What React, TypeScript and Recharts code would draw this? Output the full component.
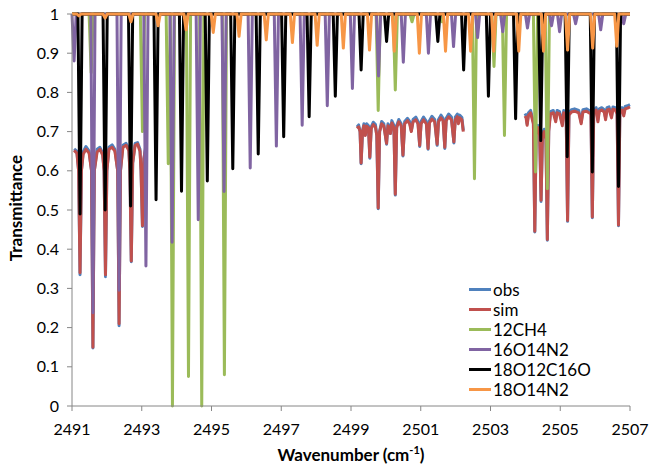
import React from 'react';
import { LineChart, Line, XAxis, YAxis, Legend } from 'recharts';

const xTicks = [2491, 2493, 2495, 2497, 2499, 2501, 2503, 2505, 2507];
const yTicks = [0, 0.1, 0.2, 0.3, 0.4, 0.5, 0.6, 0.7, 0.8, 0.9, 1];

// measured spectrum windows: [wavenumber, transmittance]
const obsWindow1 = [
  [2491.06, 0.656], [2491.14, 0.65], [2491.19, 0.6], [2491.23, 0.335], [2491.27, 0.6], [2491.32, 0.648],
  [2491.4, 0.662], [2491.49, 0.65], [2491.56, 0.6], [2491.6, 0.148], [2491.64, 0.6], [2491.72, 0.655],
  [2491.8, 0.66], [2491.88, 0.645], [2491.92, 0.6], [2491.96, 0.33], [2492.0, 0.6], [2492.06, 0.66],
  [2492.15, 0.666], [2492.23, 0.655], [2492.31, 0.6], [2492.35, 0.205], [2492.39, 0.6], [2492.46, 0.665],
  [2492.55, 0.67], [2492.63, 0.657], [2492.66, 0.6], [2492.7, 0.368], [2492.74, 0.62], [2492.81, 0.67],
  [2492.88, 0.672], [2492.95, 0.655], [2492.98, 0.6], [2493.02, 0.458], [2493.06, 0.63], [2493.11, 0.66],
];
const simWindow1 = [
  [2491.06, 0.652], [2491.14, 0.645], [2491.19, 0.6], [2491.23, 0.34], [2491.27, 0.6], [2491.32, 0.642],
  [2491.4, 0.655], [2491.49, 0.645], [2491.56, 0.6], [2491.6, 0.15], [2491.64, 0.6], [2491.72, 0.648],
  [2491.8, 0.655], [2491.88, 0.64], [2491.92, 0.6], [2491.96, 0.335], [2492.0, 0.6], [2492.06, 0.655],
  [2492.15, 0.66], [2492.23, 0.65], [2492.31, 0.6], [2492.35, 0.21], [2492.39, 0.6], [2492.46, 0.66],
  [2492.55, 0.665], [2492.63, 0.652], [2492.66, 0.6], [2492.7, 0.37], [2492.74, 0.62], [2492.81, 0.665],
  [2492.88, 0.668], [2492.95, 0.65], [2492.98, 0.6], [2493.02, 0.46], [2493.06, 0.63], [2493.11, 0.655],
];
const obsWindow2 = [
  [2499.17, 0.712], [2499.22, 0.717], [2499.26, 0.7], [2499.29, 0.618], [2499.33, 0.7], [2499.37, 0.72],
  [2499.41, 0.692], [2499.45, 0.72], [2499.5, 0.715], [2499.54, 0.632], [2499.58, 0.712], [2499.64, 0.724],
  [2499.7, 0.718], [2499.74, 0.69], [2499.78, 0.503], [2499.82, 0.7], [2499.88, 0.726], [2499.94, 0.72],
  [2500.02, 0.668], [2500.06, 0.72], [2500.1, 0.715], [2500.13, 0.695], [2500.17, 0.728], [2500.23, 0.716],
  [2500.27, 0.538], [2500.31, 0.715], [2500.37, 0.731], [2500.44, 0.72], [2500.49, 0.638], [2500.54, 0.726],
  [2500.62, 0.734], [2500.68, 0.726], [2500.73, 0.702], [2500.78, 0.731], [2500.86, 0.737], [2500.92, 0.726],
  [2500.97, 0.662], [2501.01, 0.726], [2501.08, 0.737], [2501.16, 0.726], [2501.21, 0.655], [2501.25, 0.728],
  [2501.32, 0.739], [2501.4, 0.731], [2501.47, 0.665], [2501.51, 0.731], [2501.58, 0.742], [2501.64, 0.734],
  [2501.69, 0.657], [2501.73, 0.734], [2501.8, 0.745], [2501.88, 0.737], [2501.95, 0.671], [2501.99, 0.737],
  [2502.05, 0.745], [2502.08, 0.725], [2502.12, 0.742], [2502.18, 0.736], [2502.22, 0.703],
];
const simWindow2 = [
  [2499.17, 0.708], [2499.22, 0.712], [2499.26, 0.7], [2499.29, 0.62], [2499.33, 0.7], [2499.37, 0.715],
  [2499.41, 0.69], [2499.45, 0.714], [2499.5, 0.71], [2499.54, 0.635], [2499.58, 0.708], [2499.64, 0.718],
  [2499.7, 0.712], [2499.74, 0.69], [2499.78, 0.505], [2499.82, 0.7], [2499.88, 0.72], [2499.94, 0.715],
  [2500.02, 0.67], [2500.06, 0.715], [2500.1, 0.71], [2500.13, 0.695], [2500.17, 0.722], [2500.23, 0.71],
  [2500.27, 0.54], [2500.31, 0.71], [2500.37, 0.725], [2500.44, 0.715], [2500.49, 0.64], [2500.54, 0.72],
  [2500.62, 0.728], [2500.68, 0.72], [2500.73, 0.7], [2500.78, 0.725], [2500.86, 0.73], [2500.92, 0.72],
  [2500.97, 0.665], [2501.01, 0.72], [2501.08, 0.73], [2501.16, 0.72], [2501.21, 0.657], [2501.25, 0.722],
  [2501.32, 0.732], [2501.4, 0.725], [2501.47, 0.668], [2501.51, 0.725], [2501.58, 0.735], [2501.64, 0.728],
  [2501.69, 0.66], [2501.73, 0.728], [2501.8, 0.738], [2501.88, 0.73], [2501.95, 0.674], [2501.99, 0.73],
  [2502.05, 0.738], [2502.08, 0.72], [2502.12, 0.735], [2502.18, 0.73], [2502.22, 0.7],
];
const obsWindow3 = [
  [2503.99, 0.746], [2504.02, 0.741], [2504.05, 0.72], [2504.09, 0.748], [2504.15, 0.754], [2504.23, 0.724],
  [2504.27, 0.444], [2504.31, 0.705], [2504.36, 0.716], [2504.41, 0.694], [2504.45, 0.522], [2504.49, 0.695],
  [2504.54, 0.706], [2504.59, 0.684], [2504.63, 0.423], [2504.67, 0.705], [2504.72, 0.751], [2504.8, 0.754],
  [2504.87, 0.73], [2504.91, 0.754], [2504.98, 0.751], [2505.06, 0.72], [2505.1, 0.754], [2505.17, 0.746],
  [2505.21, 0.471], [2505.25, 0.748], [2505.32, 0.756], [2505.41, 0.758], [2505.53, 0.754], [2505.6, 0.724],
  [2505.65, 0.756], [2505.75, 0.758], [2505.88, 0.751], [2505.92, 0.48], [2505.96, 0.754], [2506.03, 0.761],
  [2506.08, 0.73], [2506.12, 0.758], [2506.19, 0.761], [2506.26, 0.756], [2506.3, 0.735], [2506.34, 0.761],
  [2506.4, 0.763], [2506.47, 0.74], [2506.51, 0.763], [2506.58, 0.761], [2506.63, 0.75], [2506.67, 0.46],
  [2506.71, 0.756], [2506.77, 0.761], [2506.82, 0.745], [2506.86, 0.764], [2506.93, 0.766], [2507.0, 0.769],
];
const simWindow3 = [
  [2503.99, 0.74], [2504.02, 0.735], [2504.05, 0.716], [2504.09, 0.742], [2504.15, 0.748], [2504.23, 0.72],
  [2504.27, 0.446], [2504.31, 0.7], [2504.36, 0.71], [2504.41, 0.69], [2504.45, 0.525], [2504.49, 0.69],
  [2504.54, 0.7], [2504.59, 0.68], [2504.63, 0.425], [2504.67, 0.7], [2504.72, 0.745], [2504.8, 0.748],
  [2504.87, 0.725], [2504.91, 0.748], [2504.98, 0.745], [2505.06, 0.715], [2505.1, 0.748], [2505.17, 0.74],
  [2505.21, 0.473], [2505.25, 0.742], [2505.32, 0.75], [2505.41, 0.752], [2505.53, 0.748], [2505.6, 0.72],
  [2505.65, 0.75], [2505.75, 0.752], [2505.88, 0.745], [2505.92, 0.482], [2505.96, 0.748], [2506.03, 0.755],
  [2506.08, 0.725], [2506.12, 0.752], [2506.19, 0.755], [2506.26, 0.75], [2506.3, 0.73], [2506.34, 0.755],
  [2506.4, 0.757], [2506.47, 0.735], [2506.51, 0.757], [2506.58, 0.755], [2506.63, 0.745], [2506.67, 0.462],
  [2506.71, 0.75], [2506.77, 0.755], [2506.82, 0.74], [2506.86, 0.758], [2506.93, 0.76], [2507.0, 0.763],
];

// line lists per species: [line centre, transmittance at centre]
const ch4Lines = [
  [2491.55, 0.85], [2493.02, 0.7], [2493.76, 0.618], [2493.88, 0.0], [2494.34, 0.075], [2494.72, 0.0],
  [2495.37, 0.08], [2499.78, 0.754], [2500.27, 0.806], [2500.75, 0.98], [2501.61, 0.98], [2502.54, 0.58],
  [2503.1, 0.866], [2503.4, 0.69], [2504.29, 0.597], [2504.63, 0.554],
];
const n2o16Lines = [
  [2491.06, 0.88], [2491.6, 0.238], [2492.35, 0.295], [2493.12, 0.357], [2493.87, 0.418], [2494.62, 0.475],
  [2495.36, 0.547], [2496.11, 0.607], [2496.86, 0.663], [2497.6, 0.716], [2498.32, 0.766], [2499.04, 0.81],
  [2499.79, 0.842], [2500.5, 0.877], [2501.22, 0.9], [2501.94, 0.917], [2502.63, 0.94], [2503.35, 0.955],
  [2504.06, 0.964], [2504.75, 0.97], [2504.98, 0.955], [2505.44, 0.975], [2506.16, 0.96], [2506.82, 0.975],
];
const co2Lines = [
  [2491.23, 0.49], [2491.95, 0.5], [2492.68, 0.51], [2493.41, 0.526], [2494.14, 0.548], [2494.88, 0.574],
  [2495.61, 0.605], [2496.34, 0.643], [2497.07, 0.687], [2497.8, 0.738], [2498.55, 0.79], [2499.29, 0.857],
  [2500.02, 0.93], [2501.49, 0.93], [2502.23, 0.857], [2502.94, 0.79], [2503.72, 0.733], [2504.44, 0.677],
  [2505.2, 0.636], [2505.92, 0.597], [2506.67, 0.56],
];
const n2o18Lines = [
  [2491.2, 0.995], [2491.95, 0.99], [2492.69, 0.98], [2493.47, 0.97], [2494.27, 0.96], [2495.05, 0.953],
  [2495.79, 0.943], [2496.57, 0.934], [2497.32, 0.927], [2498.03, 0.92], [2498.78, 0.913], [2499.53, 0.908],
  [2500.24, 0.905], [2500.96, 0.9], [2501.71, 0.905], [2502.43, 0.905], [2503.09, 0.905], [2503.81, 0.905],
  [2504.52, 0.905], [2505.21, 0.908], [2505.93, 0.913], [2506.62, 0.918],
];

type Pt = { x: number; y: number | null };

const toPoints = (pairs: number[][]): Pt[] => pairs.map(([x, y]) => ({ x, y }));

const joinWindows = (...wins: number[][][]): Pt[] => {
  const out: Pt[] = [];
  wins.forEach((w, i) => {
    if (i > 0) out.push({ x: (out[out.length - 1].x + w[0][0]) / 2, y: null });
    out.push(...toPoints(w));
  });
  return out;
};

// each line drawn as a narrow dip from the continuum
const lineSpectrum = (lines: number[][]): Pt[] => {
  const pts: Pt[] = [{ x: 2491, y: 1 }];
  lines.forEach(([c, t]) => {
    pts.push({ x: Math.max(2491, c - 0.06), y: 1 }, { x: c, y: t }, { x: c + 0.06, y: 1 });
  });
  pts.push({ x: 2507, y: 1 });
  return pts;
};

const series = [
  { name: 'obs', color: '#4F81BD', data: joinWindows(obsWindow1, obsWindow2, obsWindow3) },
  { name: 'sim', color: '#C0504D', data: joinWindows(simWindow1, simWindow2, simWindow3) },
  { name: '12CH4', color: '#9BBB59', data: lineSpectrum(ch4Lines) },
  { name: '16O14N2', color: '#8064A2', data: lineSpectrum(n2o16Lines) },
  { name: '18O12C16O', color: '#000000', data: lineSpectrum(co2Lines) },
  { name: '18O14N2', color: '#F79646', data: lineSpectrum(n2o18Lines) },
];

const font = 'Lato, "Open Sans", sans-serif';
const axisColor = '#868686';

const LegendBox = () => (
  <div style={{ fontFamily: font, fontSize: 17, color: '#000' }}>
    {series.map((s) => (
      <div key={s.name} style={{ display: 'flex', alignItems: 'center', height: 20 }}>
        <span style={{ display: 'inline-block', width: 22, height: 3, background: s.color, marginRight: 2 }} />
        <span>{s.name}</span>
      </div>
    ))}
  </div>
);

export default function App() {
  return (
    <div style={{ position: 'absolute', left: 0, top: 0, width: 650, height: 470, background: '#fff' }}>
      <LineChart width={650} height={470} margin={{ top: 14, right: 20, bottom: 34, left: 0 }}>
        <XAxis
          dataKey="x"
          type="number"
          domain={[2491, 2507]}
          ticks={xTicks}
          interval={0}
          height={30}
          stroke={axisColor}
          tickSize={5}
          tickMargin={13}
          tick={{ fill: '#000', fontSize: 16, fontFamily: font }}
        />
        <YAxis
          type="number"
          domain={[0, 1]}
          ticks={yTicks}
          interval={0}
          width={72}
          stroke={axisColor}
          tickSize={5}
          tickMargin={8}
          tickFormatter={(v: number) => String(Number(v.toFixed(1)))}
          tick={{ fill: '#000', fontSize: 16, fontFamily: font }}
        />
        <Legend
          layout="vertical"
          align="center"
          verticalAlign="middle"
          content={() => <LegendBox />}
          wrapperStyle={{ left: 469, top: 279, width: 170 }}
        />
        {series.map((s) => (
          <Line
            key={s.name}
            data={s.data}
            dataKey="y"
            name={s.name}
            type="linear"
            stroke={s.color}
            strokeWidth={3}
            strokeLinejoin="round"
            dot={false}
            activeDot={false}
            isAnimationActive={false}
            connectNulls={false}
          />
        ))}
      </LineChart>
      <div
        style={{
          position: 'absolute', left: 15, top: 208, transform: 'translate(-50%, -50%) rotate(-90deg)',
          fontFamily: font, fontWeight: 700, fontSize: 17, whiteSpace: 'nowrap', color: '#000',
        }}
      >
        Transmittance
      </div>
      <div
        style={{
          position: 'absolute', left: 351, top: 454, transform: 'translate(-50%, -50%)',
          fontFamily: font, fontWeight: 700, fontSize: 17, whiteSpace: 'nowrap', color: '#000',
        }}
      >
        Wavenumber (cm<sup style={{ fontSize: 11 }}>-1</sup>)
      </div>
    </div>
  );
}
